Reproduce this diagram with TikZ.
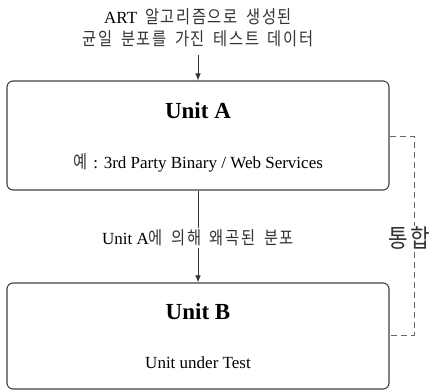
\documentclass[tikz,border=0pt]{standalone}
\usepackage{fontspec}
\setmainfont{Liberation Serif}
\newfontfamily\kr{Noto Sans CJK KR}[FakeStretch=0.85, LetterSpace=9, WordSpace=1.7, Color=333333]
\usetikzlibrary{arrows.meta}
\begin{document}
\begin{tikzpicture}[x=1pt,y=-1pt,
  unitbox/.style={draw=black!75, line width=1.1pt, rounded corners=6pt,
    minimum width=382pt, inner sep=0pt},
  title/.style={font=\fontsize{23}{26}\selectfont\bfseries},
  sub/.style={font=\fontsize{17}{20}\selectfont},
  flow/.style={draw=black!80, line width=0.8pt, -{Latex[length=7pt,width=5.5pt]}},
  joint/.style={draw=black!60, line width=0.9pt, dash pattern=on 6pt off 4pt}]
\useasboundingbox (0,0) rectangle (436,390);

% input description
\node[align=center, inner sep=0pt, font=\fontsize{17}{22.5}\selectfont] (src) at (198,28)
  {ART\hspace{8pt}{\kr\fontsize{18}{22.5}\selectfont 알고리즘으로 생성된}\\
   {\kr\fontsize{18}{22.5}\selectfont 균일 분포를 가진 테스트 데이터}};

% the two units
\node[unitbox, minimum height=109pt] (A) at (198,135.5) {};
\node[title] (At) at (198,111) {Unit A};
\node[sub] (As) at (198,163) {{\kr\fontsize{18}{20}\selectfont 예}\hspace{2pt} : 3rd Party Binary / Web Services};

\node[unitbox, minimum height=106pt] (B) at (198,336) {};
\node[title] (Bt) at (198,312) {Unit B};
\node[sub] (Bs) at (198,363) {Unit under Test};

% data flow
\draw[flow] (src.south |- 0,55) -- (A.north);
\draw[flow] (A.south) -- (B.north);
\node[fill=white, inner sep=2pt, font=\fontsize{17}{20}\selectfont] (mid) at (198,238)
  {Unit A{\kr\fontsize{18}{20}\selectfont 에 의해 왜곡된 분포}};

% integration bracket
\coordinate (jA) at (414,136);
\coordinate (jB) at (414,335);
\draw[joint] (A.east |- jA) -- (jA) -- (jB) -- (B.east |- jB);
\node[fill=white, inner sep=1pt, font=\kr\fontsize{25}{27}\selectfont] (int) at (409,238) {통합};
\end{tikzpicture}
\end{document}
